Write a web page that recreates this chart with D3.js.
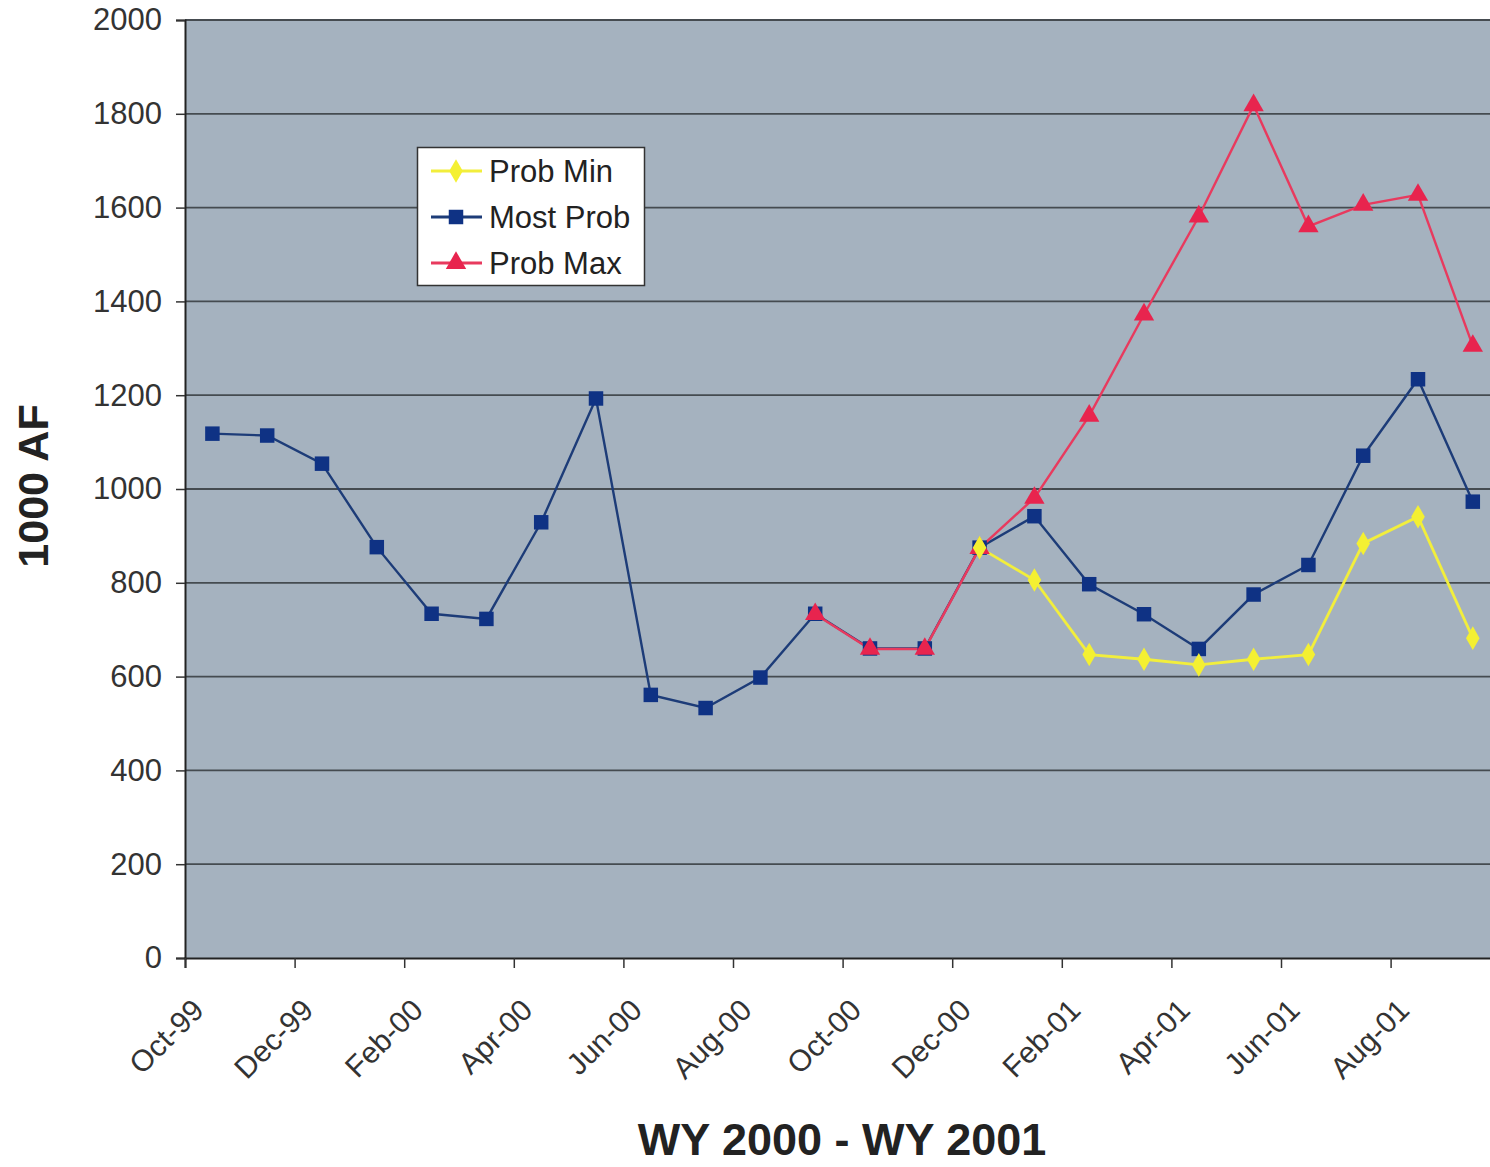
<!DOCTYPE html>
<html><head><meta charset="utf-8">
<script src="https://cdn.jsdelivr.net/npm/d3@7"></script>
<style>body{margin:0;background:#fff;overflow:hidden}svg{display:block}</style>
</head><body>
<svg id="c" width="1490" height="1167"></svg>
<script>
const months = ["Oct-99","Nov-99","Dec-99","Jan-00","Feb-00","Mar-00","Apr-00","May-00","Jun-00","Jul-00","Aug-00","Sep-00",
                "Oct-00","Nov-00","Dec-00","Jan-01","Feb-01","Mar-01","Apr-01","May-01","Jun-01","Jul-01","Aug-01","Sep-01"];
const tickLabels = ["Oct-99","Dec-99","Feb-00","Apr-00","Jun-00","Aug-00","Oct-00","Dec-00","Feb-01","Apr-01","Jun-01","Aug-01"];
const yTicks = [0,200,400,600,800,1000,1200,1400,1600,1800,2000];
const mostProb = [1118,1114,1054,876,734,723,929,1193,561,533,598,734,660,660,875,942,797,733,659,775,838,1071,1234,973];
const probMax  = [null,null,null,null,null,null,null,null,null,null,null,733,659,659,874,981,1156,1372,1581,1818,1560,1606,1627,1305];
const probMin  = [null,null,null,null,null,null,null,null,null,null,null,null,null,null,875,806,647,637,625,637,647,884,941,682];

const svg = d3.select("#c");
const plotLeft = 185, plotTop = 20, plotBottom = 958, monthW = 54.8;
const x = d3.scaleLinear().domain([0, 24]).range([plotLeft, plotLeft + 24*monthW]);
const y = d3.scaleLinear().domain([0, 2000]).range([plotBottom, plotTop]);
const font = "'Liberation Sans', Arial, sans-serif";

// plot area
svg.append("rect").attr("x", x(0)).attr("y", y(2000)).attr("width", x(24)-x(0)).attr("height", y(0)-y(2000))
  .attr("fill", "#a5b2bf");

// gridlines
svg.append("g").selectAll("line").data(yTicks.filter(d=>d>0)).join("line")
  .attr("x1", x(0)).attr("x2", x(24)).attr("y1", d=>y(d)).attr("y2", d=>y(d))
  .attr("stroke", "#454b50").attr("stroke-width", 1.8);

// y axis
const yAxis = d3.axisLeft(y).tickValues(yTicks).tickSize(9).tickPadding(14).tickFormat(d3.format("d"));
const gy = svg.append("g").attr("transform", `translate(${plotLeft},0)`).call(yAxis);
gy.select(".domain").attr("stroke", "#222").attr("stroke-width", 2);
gy.selectAll(".tick line").attr("stroke", "#333").attr("stroke-width", 1.5);
gy.selectAll("text").attr("font-family", font).attr("font-size", 31).attr("fill", "#333");

// x axis
const tickIdx = tickLabels.map(t => months.indexOf(t));
const xAxis = d3.axisBottom(x).tickValues(tickIdx).tickSize(10).tickFormat(i => months[i]);
const gx = svg.append("g").attr("transform", `translate(0,${plotBottom})`).call(xAxis);
gx.select(".domain").attr("stroke", "#222").attr("stroke-width", 2);
gx.selectAll(".tick line").attr("stroke", "#333").attr("stroke-width", 1.5);
gx.selectAll("text").attr("font-family", font).attr("font-size", 30).attr("fill", "#333")
  .attr("text-anchor", "end").attr("dy", 0).attr("y", 0)
  .attr("transform", "translate(20,54) rotate(-45)");

// axis titles
svg.append("text").attr("transform", "translate(48,486) rotate(-90)").attr("text-anchor", "middle")
  .attr("font-family", font).attr("font-weight", "bold").attr("font-size", 43).attr("fill", "#222").text("1000 AF");
svg.append("text").attr("x", 842).attr("y", 1155).attr("text-anchor", "middle")
  .attr("font-family", font).attr("font-weight", "bold").attr("font-size", 45).attr("fill", "#222").text("WY 2000 - WY 2001");

const cx = i => x(i + 0.5);
const line = d3.line().defined(d => d != null).x((d, i) => cx(i)).y(d => y(d));

function series(data, color, width) {
  svg.append("path").datum(data).attr("d", line).attr("fill", "none").attr("stroke", color).attr("stroke-width", width);
}
series(mostProb, "#1d3c78", 2.4);
series(probMax, "#e83a5e", 2.4);
series(probMin, "#f2ee3c", 2.8);

const sq = d3.symbol().type(d3.symbolSquare).size(210);
const tri = d3.symbol().type(d3.symbolTriangle).size(180);
const dia = d3.symbol().type(d3.symbolDiamond).size(160);
function markers(data, sym, color) {
  svg.append("g").selectAll("path").data(data.map((v,i)=>({v,i})).filter(d=>d.v!=null)).join("path")
    .attr("d", sym).attr("transform", d => `translate(${cx(d.i)},${y(d.v)})`).attr("fill", color);
}
markers(mostProb, sq, "#0f3284");
markers(probMax, tri, "#e8244e");
markers(probMin, dia, "#f4f032");

// legend
const lg = svg.append("g");
lg.append("rect").attr("x", 417.5).attr("y", 147.5).attr("width", 227).attr("height", 138)
  .attr("fill", "#fff").attr("stroke", "#333").attr("stroke-width", 1.5);
const items = [["Prob Min", "#f2ee3c", "#f4f032", dia], ["Most Prob", "#1d3c78", "#0f3284", sq], ["Prob Max", "#e83a5e", "#e8244e", tri]];
items.forEach((it, k) => {
  const yy = 171 + k*46;
  lg.append("line").attr("x1", 431).attr("x2", 482).attr("y1", yy).attr("y2", yy).attr("stroke", it[1]).attr("stroke-width", 2.8);
  lg.append("path").attr("d", it[3]).attr("transform", `translate(456,${yy})`).attr("fill", it[2]);
  lg.append("text").attr("x", 489).attr("y", yy + 11).attr("font-family", font).attr("font-size", 31).attr("fill", "#222").text(it[0]);
});
</script>
</body></html>
